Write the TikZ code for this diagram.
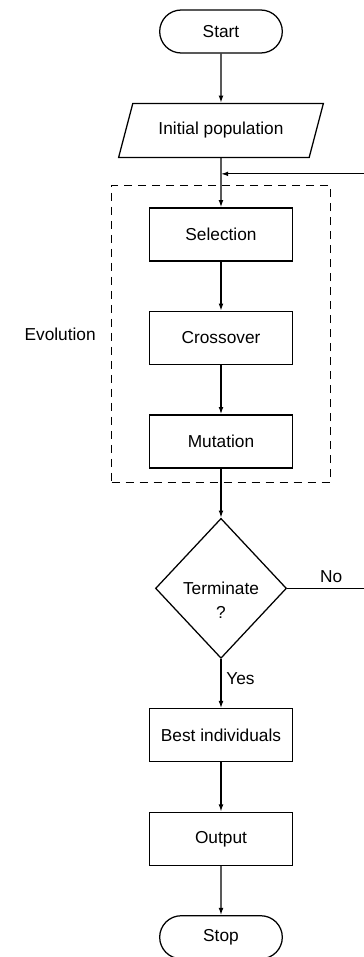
\documentclass[tikz,border=0pt]{standalone}
\usepackage{fontspec}
\setmainfont{Liberation Sans}
\usetikzlibrary{arrows.meta,positioning,shapes.geometric,shapes.misc,fit,calc}
\newcommand{\gafont}{\fontsize{12.3}{17}\selectfont}
\tikzset{
  terminal/.style={rounded rectangle,draw,minimum width=3.3cm,minimum height=1.075cm,font=\gafont},
  io/.style={trapezium,trapezium left angle=67,trapezium right angle=113,trapezium stretches,draw,
    minimum width=5.125cm,minimum height=1.35cm,font=\gafont},
  process/.style={rectangle,draw,minimum width=3.575cm,minimum height=1.325cm,font=\gafont},
  decision/.style={diamond,draw,minimum width=3.275cm,minimum height=3.5cm,
    inner sep=-4pt,align=center,font=\gafont},
  group/.style={draw,dash pattern=on 2mm off 1.5mm},
  tag/.style={font=\gafont},
  arrow/.style={-{Latex[length=1.8mm,width=1.2mm]},draw}
}
\begin{document}
\begin{tikzpicture}[node distance=1.23cm,line width=0.9pt]
\useasboundingbox (-5.525,0.7875) rectangle (3.575,-23.1375);
\node[terminal] (start) at (0,0) {Start};
\node[io,below=of start] (init) {Initial population};
\node[process,below=of init] (sel) {Selection};
\node[process,below=of sel] (cross) {Crossover};
\node[process,below=of cross] (mut) {Mutation};
\node[decision,below=of mut] (term) {\mbox{}\\[9pt]Terminate\\?};
\node[process,below=of term] (best) {Best individuals};
\node[process,below=of best] (out) {Output};
\node[terminal,below=of out] (stop) {Stop};
% dashed group round the evolution steps
\node[group,fit=(sel)(mut),inner xsep=0.93cm,inner ysep=0.45cm,yshift=0.1cm] (evo) {};
\node[tag,left=0.25cm of evo] (evolabel) {Evolution};
\coordinate (join) at ($(init.south)!0.32!(sel.north)$);
\draw[arrow] (start) -- (init); \draw[arrow] (init) -- (sel);
\draw[arrow] (sel) -- (cross); \draw[arrow] (cross) -- (mut);
\draw[arrow] (mut) -- (term);
\draw[arrow] (term) -- node[tag,right,pos=0.4] {Yes} (best);
\draw[arrow] (best) -- (out); \draw[arrow] (out) -- (stop);
\draw[arrow] (term.east) -- node[tag,above] {No} ++(2.2,0) |- (join);
\end{tikzpicture}
\end{document}
